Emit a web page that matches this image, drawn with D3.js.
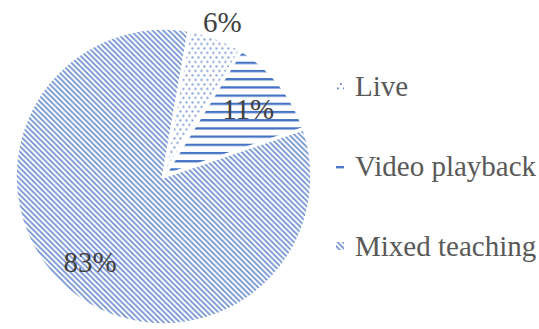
<!DOCTYPE html>
<html>
<head>
<meta charset="utf-8">
<script src="https://cdn.jsdelivr.net/npm/d3@7"></script>
<style>
  html, body { margin: 0; padding: 0; background: #fff; }
  svg { display: block; }
</style>
</head>
<body>
<svg id="chart" width="539" height="329"></svg>
<script>
// Teaching mode shares (percent)
const categories = ["Live", "Video playback", "Mixed teaching"];
const values = [6, 11, 83];
const patternIds = ["pat-dots", "pat-hstripes", "pat-diag"];

const W = 539, H = 329;
const cx = 163.5, cy = 176.5, radius = 148.5;
const startRotation = 10 * Math.PI / 180;
const blue = "#4472C4";

const svg = d3.select("#chart");
const defs = svg.append("defs");

// Dotted fill
const dots = defs.append("pattern")
  .attr("id", "pat-dots").attr("patternUnits", "userSpaceOnUse")
  .attr("width", 6).attr("height", 9);
dots.append("rect").attr("width", 6).attr("height", 9).attr("fill", "#fff");
dots.append("rect").attr("x", 1).attr("y", 1.5).attr("width", 1.8).attr("height", 1.8).attr("fill", blue).attr("opacity", 0.85);
dots.append("rect").attr("x", 4).attr("y", 6).attr("width", 1.8).attr("height", 1.8).attr("fill", blue).attr("opacity", 0.85);

// Horizontal stripe fill
const hs = defs.append("pattern")
  .attr("id", "pat-hstripes").attr("patternUnits", "userSpaceOnUse")
  .attr("width", 8).attr("height", 8.2);
hs.append("rect").attr("width", 8).attr("height", 8.2).attr("fill", "#fff");
hs.append("rect").attr("y", 0).attr("width", 8).attr("height", 2.3).attr("fill", blue);

// Downward diagonal fill
const P = 5.4;
const dg = defs.append("pattern")
  .attr("id", "pat-diag").attr("patternUnits", "userSpaceOnUse")
  .attr("width", P).attr("height", P);
dg.append("rect").attr("width", P).attr("height", P).attr("fill", "#fff");
dg.append("path")
  .attr("d", `M-1,-1 L${P + 1},${P + 1} M-1,${P - 1} L1,${P + 1} M${P - 1},-1 L${P + 1},1`)
  .attr("stroke", blue).attr("stroke-width", 1.6).attr("stroke-opacity", 0.82);

const pie = d3.pie().sort(null).value(d => d)
  .startAngle(startRotation).endAngle(startRotation + 2 * Math.PI);
const arcs = pie(values);

const arc = d3.arc().innerRadius(0).outerRadius(radius);

const g = svg.append("g").attr("transform", `translate(${cx},${cy})`);

g.selectAll("path.slice")
  .data(arcs)
  .join("path")
  .attr("class", "slice")
  .attr("d", arc)
  .attr("fill", (d, i) => `url(#${patternIds[i]})`)
  .attr("stroke", "#fff")
  .attr("stroke-width", 3.5)
  .attr("stroke-linejoin", "round");

// Percent labels: small slice outside, others inside
const labelRadius = [radius + 17, radius * 0.73, radius * 0.76];
g.selectAll("text.pct")
  .data(arcs)
  .join("text")
  .attr("class", "pct")
  .attr("transform", (d, i) => {
    const a = d3.arc().innerRadius(labelRadius[i]).outerRadius(labelRadius[i]);
    const [x, y] = a.centroid(d);
    return `translate(${x},${y})`;
  })
  .attr("text-anchor", "middle")
  .attr("dy", "0.34em")
  .attr("font-family", "'Liberation Serif', 'Times New Roman', serif")
  .attr("font-size", 29)
  .attr("fill", "#404040")
  .text(d => d.value + "%");

// Legend
const legendY = d3.scalePoint().domain(categories).range([86, 246]);
const legend = svg.append("g");
const item = legend.selectAll("g.item")
  .data(categories)
  .join("g")
  .attr("class", "item")
  .attr("transform", d => `translate(336,${legendY(d)})`);

item.append("rect")
  .attr("x", 0).attr("y", -4)
  .attr("width", 8).attr("height", 8)
  .attr("fill", (d, i) => `url(#${patternIds[i]})`);

item.append("text")
  .attr("x", 19)
  .attr("y", 0)
  .attr("dy", "0.34em")
  .attr("font-family", "'Liberation Serif', 'Times New Roman', serif")
  .attr("font-size", 29)
  .attr("fill", "#595959")
  .text(d => d);
</script>
</body>
</html>
